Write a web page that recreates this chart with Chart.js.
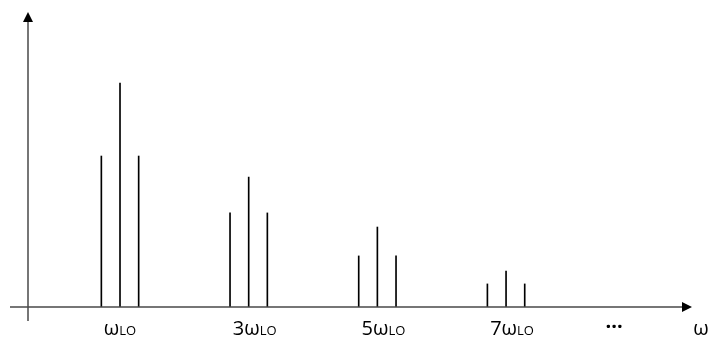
<!DOCTYPE html>
<html>
<head>
<meta charset="utf-8">
<script src="https://cdn.jsdelivr.net/npm/chart.js@4/dist/chart.umd.min.js"></script>
<style>
  html, body { margin: 0; padding: 0; background: #fff; }
  canvas { display: block; }
</style>
</head>
<body>
<canvas id="c" width="711" height="341"></canvas>
<script>
// spectral line positions (in units of wLO) and amplitudes
var lineFreqs = [0.71, 1, 1.29, 2.71, 3, 3.29, 4.71, 5, 5.29, 6.71, 7, 7.29];
var lineAmps  = [0.674, 1.0, 0.674, 0.42, 0.58, 0.42, 0.228, 0.357, 0.228, 0.103, 0.16, 0.103];

// x-axis labels: harmonic number and where it sits
var harmonicPos    = [1, 3, 5, 7];
var harmonicLabels = ['ω', '3ω', '5ω', '7ω'];
var subLabel = 'LO';
var ellipsisPos = 8.68;
var axisLabelPos = 10.03;

var FONT = '"Open Sans", "Noto Sans", sans-serif';

var axesPlugin = {
  id: 'axes',
  afterDraw: function(chart) {
    var ctx = chart.ctx;
    var a = chart.chartArea;
    var xs = chart.scales.x;
    ctx.save();

    // axes lines
    ctx.strokeStyle = '#4a4a4a';
    ctx.lineWidth = 1.5;
    ctx.beginPath();
    ctx.moveTo(a.left, a.bottom + 14);
    ctx.lineTo(a.left, a.top + 8);
    ctx.moveTo(a.left - 18, a.bottom);
    ctx.lineTo(a.right - 8, a.bottom);
    ctx.stroke();

    // arrow heads
    ctx.fillStyle = '#000';
    ctx.beginPath();
    ctx.moveTo(a.left, a.top);
    ctx.lineTo(a.left - 5, a.top + 10);
    ctx.lineTo(a.left + 5, a.top + 10);
    ctx.closePath();
    ctx.fill();
    ctx.beginPath();
    ctx.moveTo(a.right, a.bottom);
    ctx.lineTo(a.right - 10, a.bottom - 5);
    ctx.lineTo(a.right - 10, a.bottom + 5);
    ctx.closePath();
    ctx.fill();

    // harmonic labels with subscript
    var base = a.bottom + 28;
    ctx.fillStyle = '#000';
    ctx.textBaseline = 'alphabetic';
    harmonicLabels.forEach(function(lbl, i) {
      ctx.font = '20px ' + FONT;
      var w1 = ctx.measureText(lbl).width;
      ctx.font = '13px ' + FONT;
      var w2 = ctx.measureText(subLabel).width;
      var x0 = xs.getPixelForValue(harmonicPos[i]) - (w1 + w2) / 2 + (i === 0 ? 0 : 6);
      ctx.font = '20px ' + FONT;
      ctx.textAlign = 'left';
      ctx.fillText(lbl, x0, base);
      ctx.font = '13px ' + FONT;
      ctx.fillText(subLabel, x0 + w1, base);
    });

    ctx.font = 'bold 20px ' + FONT;
    ctx.textAlign = 'center';
    ctx.fillText('\u00B7\u00B7\u00B7', xs.getPixelForValue(ellipsisPos), base - 2);
    ctx.font = '20px ' + FONT;
    ctx.fillText('ω', xs.getPixelForValue(axisLabelPos), base);
    ctx.restore();
  }
};

var points = lineFreqs.map(function(f, i) { return { x: f, y: lineAmps[i] }; });

new Chart(document.getElementById('c'), {
  type: 'bar',
  data: {
    datasets: [{
      data: points,
      backgroundColor: '#000',
      borderWidth: 0,
      barThickness: 1
    }]
  },
  options: {
    responsive: false,
    animation: false,
    events: [],
    layout: { padding: { left: 28, right: 19, top: 12, bottom: 34 } },
    plugins: { legend: { display: false }, tooltip: { enabled: false } },
    scales: {
      x: { type: 'linear', min: -0.43, max: 9.89, offset: false, display: false },
      y: { min: 0, max: 1.317, display: false }
    }
  },
  plugins: [axesPlugin]
});
</script>
</body>
</html>
